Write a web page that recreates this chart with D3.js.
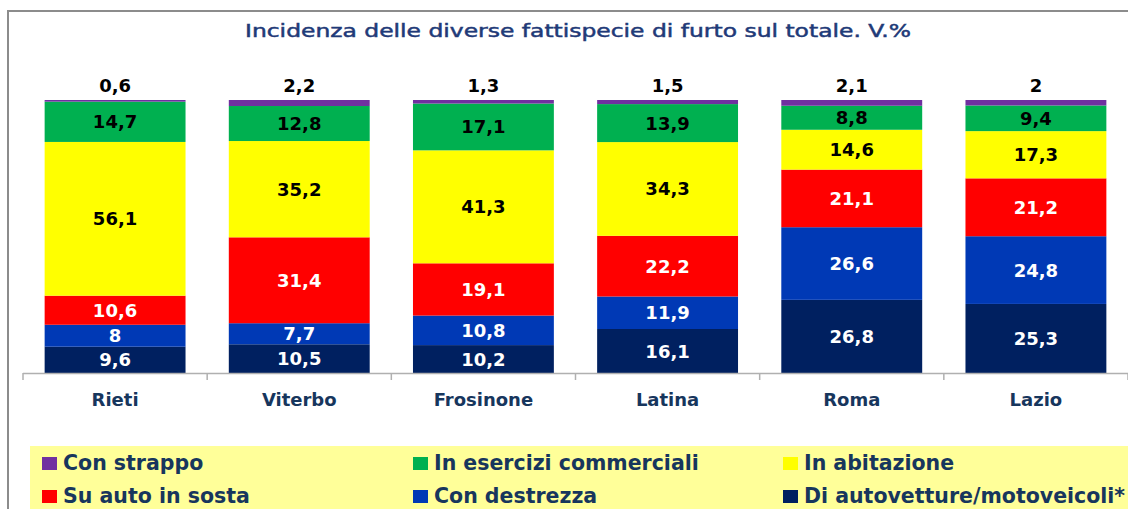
<!DOCTYPE html>
<html>
<head>
<meta charset="utf-8">
<script src="https://cdn.jsdelivr.net/npm/d3@7"></script>
<style>
  body { margin: 0; background: #fff; }
  svg { display: block; }
</style>
</head>
<body>
<svg id="chart" width="1128" height="509"></svg>
<script>
// data
let categories = ['Rieti', 'Viterbo', 'Frosinone', 'Latina', 'Roma', 'Lazio'];
let conStrappo  = [0.6, 2.2, 1.3, 1.5, 2.1, 2];
let esercizi    = [14.7, 12.8, 17.1, 13.9, 8.8, 9.4];
let abitazione  = [56.1, 35.2, 41.3, 34.3, 14.6, 17.3];
let autoSosta   = [10.6, 31.4, 19.1, 22.2, 21.1, 21.2];
let destrezza   = [8, 7.7, 10.8, 11.9, 26.6, 24.8];
let autovetture = [9.6, 10.5, 10.2, 16.1, 26.8, 25.3];

let title = 'Incidenza delle diverse fattispecie di furto sul totale. V.%';

// stack order bottom -> top
let series = [
    {key: 'autovetture', name: 'Di autovetture/motoveicoli*', values: autovetture, color: '#002060', text: '#fff'},
    {key: 'destrezza',   name: 'Con destrezza',               values: destrezza,   color: '#0039B5', text: '#fff'},
    {key: 'autoSosta',   name: 'Su auto in sosta',            values: autoSosta,   color: '#FF0000', text: '#fff'},
    {key: 'abitazione',  name: 'In abitazione',               values: abitazione,  color: '#FFFF00', text: '#000'},
    {key: 'esercizi',    name: 'In esercizi commerciali',     values: esercizi,    color: '#00B050', text: '#000'},
    {key: 'conStrappo',  name: 'Con strappo',                 values: conStrappo,  color: '#7030A0', text: '#000'}
];
let legendOrder = ['conStrappo', 'esercizi', 'abitazione', 'autoSosta', 'destrezza', 'autovetture'];

let navyText = '#17365D';
let font = '"DejaVu Sans", sans-serif';
let fmt = v => String(v).replace('.', ',');

let rows = categories.map((c, i) => {
    let r = {cat: c};
    series.forEach(s => { r[s.key] = s.values[i]; });
    return r;
});

let stack = d3.stack()
    .keys(series.map(s => s.key))
    .offset(d3.stackOffsetExpand);
let stacked = stack(rows);

let svg = d3.select('#chart');

// frame
svg.append('path')
    .attr('d', 'M8,509 V11 H1128')
    .attr('fill', 'none')
    .attr('stroke', '#8C8C8C')
    .attr('stroke-width', 2);

// title
svg.append('text')
    .attr('x', 578).attr('y', 30)
    .attr('text-anchor', 'middle')
    .attr('dominant-baseline', 'central')
    .attr('font-family', font)
    .attr('font-size', 18)
    .attr('fill', '#1F3A78')
    .attr('stroke', '#1F3A78')
    .attr('stroke-width', 0.5)
    .attr('textLength', 666)
    .attr('lengthAdjust', 'spacingAndGlyphs')
    .text(title);

// scales
let slot = d3.scaleBand().domain(categories).range([23, 1128]);
let x = d3.scaleBand().domain(categories).range([23, 1128])
    .paddingInner(0.235).paddingOuter(0.1175);
let y = d3.scaleLinear().domain([0, 1]).range([373, 100]);

// bars
let layer = svg.append('g').selectAll('g')
    .data(stacked)
    .join('g')
    .attr('fill', (d, i) => series[i].color);

layer.selectAll('rect')
    .data(d => d)
    .join('rect')
    .attr('x', d => x(d.data.cat))
    .attr('width', x.bandwidth())
    .attr('y', d => y(d[1]))
    .attr('height', d => y(d[0]) - y(d[1]));

// value labels
stacked.forEach((lay, i) => {
    let s = series[i];
    let top = i === stacked.length - 1;
    svg.append('g').selectAll('text')
        .data(lay)
        .join('text')
        .attr('x', d => x(d.data.cat) + x.bandwidth() / 2)
        .attr('y', d => top ? y(d[1]) - 15 : (y(d[0]) + y(d[1])) / 2)
        .attr('text-anchor', 'middle')
        .attr('dominant-baseline', 'central')
        .attr('font-family', font)
        .attr('font-weight', 'bold')
        .attr('font-size', 18)
        .attr('fill', s.text)
        .text(d => fmt(d.data[s.key]));
});

// axis
let axis = svg.append('g').attr('stroke', '#B0B0B0').attr('stroke-width', 1.5);
axis.append('line')
    .attr('x1', 23).attr('x2', 1128)
    .attr('y1', 373.5).attr('y2', 373.5);
let tickPos = categories.map(c => slot(c)).concat([slot.range()[1]]);
axis.selectAll('.tick')
    .data(tickPos)
    .join('line')
    .attr('x1', d => d).attr('x2', d => d)
    .attr('y1', 373).attr('y2', 380);

svg.append('g').selectAll('text')
    .data(categories)
    .join('text')
    .attr('x', d => slot(d) + slot.bandwidth() / 2)
    .attr('y', 399)
    .attr('text-anchor', 'middle')
    .attr('dominant-baseline', 'central')
    .attr('font-family', font)
    .attr('font-weight', 'bold')
    .attr('font-size', 18)
    .attr('fill', navyText)
    .text(d => d);

// legend
svg.append('rect')
    .attr('x', 30).attr('y', 446)
    .attr('width', 1098).attr('height', 63)
    .attr('fill', '#FFFF99');

let colX = [42, 413, 783];
let rowY = [463, 496];
let legend = svg.append('g').selectAll('g')
    .data(legendOrder.map(k => series.find(s => s.key === k)))
    .join('g')
    .attr('transform', (d, i) => `translate(${colX[i % 3]},${rowY[Math.floor(i / 3)]})`);
legend.append('rect')
    .attr('x', 0).attr('y', -6)
    .attr('width', 15).attr('height', 13)
    .attr('fill', d => d.color);
legend.append('text')
    .attr('x', 21).attr('y', 0)
    .attr('dominant-baseline', 'central')
    .attr('font-family', font)
    .attr('font-weight', 'bold')
    .attr('font-size', 20.5)
    .attr('fill', navyText)
    .text(d => d.name);
</script>
</body>
</html>
